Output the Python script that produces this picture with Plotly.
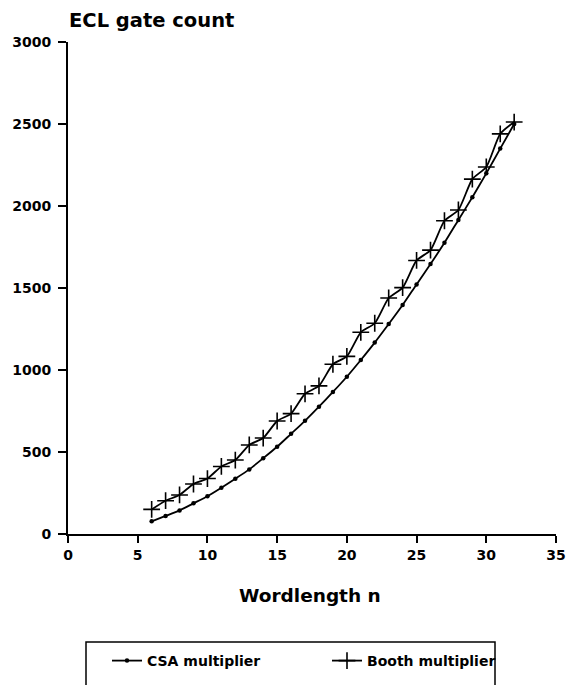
import plotly.graph_objects as go

n = list(range(6, 33))
csa = [77, 110, 144, 187, 230, 282, 337, 394, 462, 532, 611, 690, 776, 866, 959, 1061,
       1167, 1280, 1396, 1522, 1646, 1776, 1915, 2053, 2199, 2350, 2500]
booth = [150, 203, 238, 305, 338, 412, 451, 543, 585, 689, 734, 855, 903, 1035, 1083, 1230,
         1285, 1439, 1502, 1668, 1731, 1910, 1976, 2164, 2238, 2440, 2512]

x_ticks = [0, 5, 10, 15, 20, 25, 30, 35]
y_ticks = [0, 500, 1000, 1500, 2000, 2500, 3000]

FONT = "DejaVu Sans, sans-serif"
L, R, T, B = 68, 11, 42, 151
PW, PH = 567 - L - R, 685 - T - B


def px_x(p):
    return (p - L) / PW


def px_y(p):
    return (685 - B - p) / PH


fig = go.Figure()
fig.add_trace(go.Scatter(
    x=n, y=csa, name="<b>CSA multiplier</b>", mode="lines+markers", legend="legend",
    line=dict(color="black", width=1.8, shape="spline", smoothing=0.6),
    marker=dict(symbol="circle", size=4.5, color="black"),
))
fig.add_trace(go.Scatter(
    x=n, y=booth, name="<b>Booth multiplier</b>", mode="lines+markers", legend="legend2",
    line=dict(color="black", width=1.8, shape="spline", smoothing=0.6),
    marker=dict(symbol="cross-thin", size=12, color="black",
                line=dict(color="black", width=1.6)),
))

leg_common = dict(
    orientation="h", xanchor="left", yanchor="middle",
    font=dict(family=FONT, size=14, color="black"),
    bgcolor="rgba(0,0,0,0)", borderwidth=0,
)

fig.update_layout(
    width=567, height=685,
    margin=dict(l=L, r=R, t=T, b=B, autoexpand=False),
    paper_bgcolor="white", plot_bgcolor="white",
    font=dict(family=FONT, color="black", size=14),
    showlegend=True,
    legend=dict(x=px_x(107), y=px_y(661), **leg_common),
    legend2=dict(x=px_x(327), y=px_y(661), **leg_common),
    xaxis=dict(
        range=[0, 35], tickvals=x_ticks, ticktext=["<b>%d</b>" % v for v in x_ticks],
        showgrid=False, zeroline=False, showline=True, linecolor="black", linewidth=2,
        ticks="outside", ticklen=7, tickwidth=2, tickcolor="black", automargin=False,
        tickfont=dict(family=FONT, size=14, color="black"),
    ),
    yaxis=dict(
        range=[0, 3000], tickvals=y_ticks, ticktext=["<b>%d</b>" % v for v in y_ticks],
        showgrid=False, zeroline=False, showline=True, linecolor="black", linewidth=2,
        ticks="outside", ticklen=8, tickwidth=2, tickcolor="black", automargin=False,
        ticklabelstandoff=4,
        tickfont=dict(family=FONT, size=14, color="black"),
    ),
    shapes=[dict(type="rect", xref="paper", yref="paper",
                 x0=px_x(86), x1=px_x(495), y0=px_y(700), y1=px_y(642),
                 line=dict(color="black", width=1.5), fillcolor="rgba(0,0,0,0)")],
    annotations=[
        dict(text="<b>ECL gate count</b>", xref="paper", yref="paper",
             x=px_x(67), y=px_y(21), xanchor="left", yanchor="middle",
             showarrow=False, font=dict(family=FONT, size=19.5, color="black")),
        dict(text="<b>Wordlength n</b>", xref="paper", yref="paper",
             x=px_x(310), y=px_y(595), xanchor="center", yanchor="middle",
             showarrow=False, font=dict(family=FONT, size=18.5, color="black")),
    ],
)

fig.write_html("out.html")
